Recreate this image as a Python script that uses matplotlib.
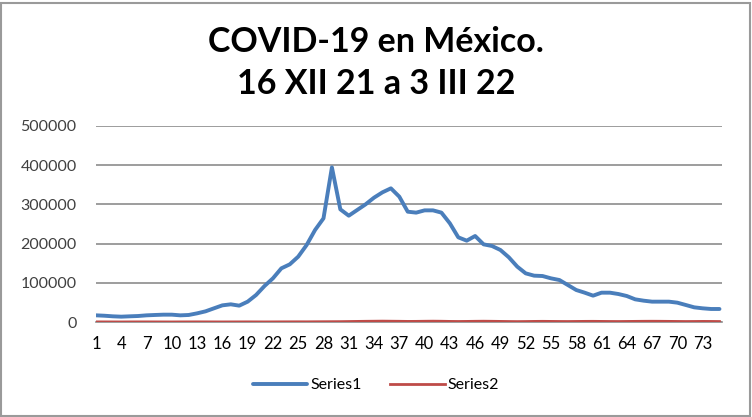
import matplotlib
matplotlib.use("Agg")
import matplotlib.pyplot as plt
from matplotlib.patches import Rectangle

plt.rcParams['font.family'] = ['Lato', 'DejaVu Sans']

title = "COVID-19 en México.\n16 XII 21 a 3 III 22"
days = list(range(1, 76))
series1 = [17000, 16000, 14500, 13600, 14500, 15300, 17000, 17900, 18700, 18700,
           17000, 17900, 22100, 27200, 34900, 42500, 45100, 41700, 51900, 68900,
           91800, 111400, 136900, 147100, 166700, 196400, 234700, 264400, 394500, 287400,
           271200, 285700, 300200, 317200, 330800, 341000, 319700, 281400, 279000, 284800,
           284800, 279000, 251700, 216000, 207500, 219400, 198100, 193900, 183700, 165000,
           141200, 124100, 118200, 117300, 111400, 107100, 94400, 81600, 74800, 67200,
           74800, 74800, 71400, 66300, 57800, 54400, 51900, 51900, 51900, 49300,
           43400, 37400, 34900, 33200, 33200]
series2 = [300, 250, 200, 150, 250, 300, 300, 250, 200, 150,
           250, 300, 350, 300, 250, 200, 250, 300, 350, 300,
           250, 300, 400, 450, 500, 450, 600, 700, 800, 900,
           1200, 1500, 1800, 2000, 2200, 2000, 1800, 1500, 1600, 1900,
           2100, 1900, 1500, 1300, 1500, 1800, 2000, 1800, 1500, 1200,
           1000, 1200, 1500, 1700, 1500, 1300, 1200, 1400, 1600, 1700,
           1500, 1300, 1200, 1400, 1600, 1800, 1900, 1800, 1600, 1400,
           1200, 1300, 1500, 1400, 1200]
yticks = [0, 100000, 200000, 300000, 400000, 500000]
label_names = ["Series1", "Series2"]

W, H = 752, 417
fig = plt.figure(figsize=(W / 100, H / 100), dpi=100)
fig.patch.set_facecolor('white')
fig.add_artist(Rectangle((1 / W, 1 / H), (W - 3) / W, (H - 4) / H, transform=fig.transFigure,
                         fill=False, edgecolor='#9a9a9a', linewidth=1.5))

ax = fig.add_axes([96 / W, 1 - 322 / H, (722 - 96) / W, (322 - 126) / H])
ax.plot(days, series1, color='#4A7EBB', lw=2.8, label=label_names[0], solid_capstyle='round', zorder=3)
ax.plot(days, series2, color='#BE4B48', lw=2.0, label=label_names[1], zorder=3)

ax.set_xlim(days[0], days[-1] + 0.3)
ax.set_ylim(0, 500000)
ax.set_yticks(yticks)
ax.set_yticklabels([str(v) for v in yticks], fontsize=11.5, color='#404040')
ax.set_xticks(days[::3])
ax.set_xticklabels([str(d) for d in days[::3]], fontsize=12, color='black')
ax.tick_params(axis='both', length=0)
ax.tick_params(axis='y', pad=14)
ax.tick_params(axis='x', pad=10)
ax.grid(axis='y', color='#8c8c8c', lw=1.2)
ax.set_axisbelow(True)
for s in ['top', 'right', 'left']:
    ax.spines[s].set_visible(False)
ax.spines['bottom'].set_color('#8c8c8c')
ax.spines['bottom'].set_linewidth(1.2)

fig.text(0.5, 1 - 63 / H, title, ha='center', va='center', fontsize=24.5, fontweight='bold',
         linespacing=1.35, color='black')

leg = fig.legend(loc='center', bbox_to_anchor=(0.5, 1 - 385 / H), ncol=2, frameon=False,
                 fontsize=11.5, handlelength=3.4, columnspacing=1.8, handletextpad=0.2)

fig.savefig('out.png', dpi=100)
